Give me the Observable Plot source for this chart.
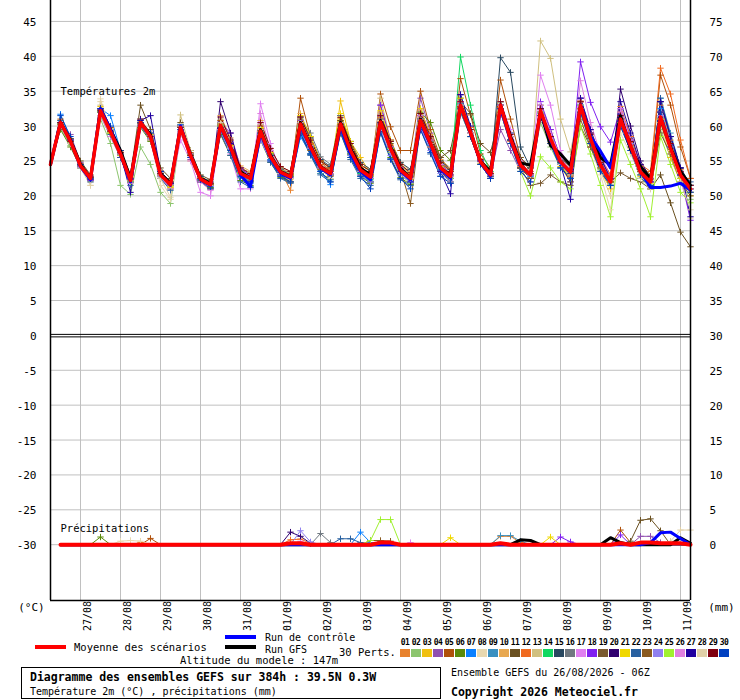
<!DOCTYPE html>
<html><head><meta charset="utf-8">
<script src="https://cdn.jsdelivr.net/npm/d3@7"></script>
<script src="https://cdn.jsdelivr.net/npm/@observablehq/plot@0.6"></script>
<style>
body{margin:0;background:#fff;}
#chart{width:740px;height:700px;}
svg text{font-family:"DejaVu Sans Mono",monospace;}
</style></head><body><div id="chart"></div>
<script>
// ---- labels ----
const dayLabels = ["27/08","28/08","29/08","30/08","31/08","01/09","02/09","03/09","04/09","05/09","06/09","07/09","08/09","09/09","10/09","11/09"];
const tempTicks = [-30,-25,-20,-15,-10,-5,0,5,10,15,20,25,30,35,40,45];
const gridTemps = [-30,-25,-20,-15,-10,-5,5,10,15,20,25,30,35,40,45];
const pertNames = ["01","02","03","04","05","06","07","08","09","10","11","12","13","14","15","16","17","18","19","20","21","22","23","24","25","26","27","28","29","30"];
const pertColors = ["#e8822e","#8cc56e","#f0c010","#9050b0","#b0500a","#5a8a0a","#0a80ff","#e8d8b0","#3a90c0","#e8a850","#6a5020","#f06a20","#d0c080","#10d860","#284860","#707880","#e080f0","#8020f0","#7a5a30","#300070","#f0d800","#2860a0","#8a5a20","#9080f0","#a0f030","#e080e0","#2000a0","#e0d0a8","#800010","#0040c0"];

// ---- 2m temperature (°C), 6-hourly from 26/08 06Z ----
const tMean = [24.5,
30.5,27.8,24.3,22.5, 32.2,29.2,26.0,22.2, 30.5,28.5,23.0,21.6, 29.8,25.8,22.4,21.6,
30.1,27.0,23.2,22.5, 29.3,25.6,23.4,22.7, 30.3,27.0,24.1,23.2, 30.3,26.5,23.7,22.7,
30.6,26.8,23.7,22.5, 30.8,27.5,24.0,22.8, 33.0,29.1,24.9,23.0, 33.0,28.2,24.4,23.0,
32.2,28.2,24.9,23.4, 33.0,28.2,24.4,22.0, 31.0,27.2,23.4,22.0, 31.3,26.8,23.0,21.0];
const tCtrl = [24.5,
30.5,27.8,24.2,22.3, 32.5,29.5,26.0,22.0, 30.5,28.5,23.0,21.5, 30.0,25.8,22.3,21.5,
30.0,26.8,23.0,21.3, 29.0,25.5,23.2,22.5, 30.0,26.8,24.0,23.0, 30.0,26.0,23.5,22.3,
30.5,26.8,23.5,22.3, 30.5,27.3,23.8,22.5, 33.0,29.0,24.8,22.8, 32.5,28.0,24.3,23.0,
32.0,28.0,24.8,23.3, 33.0,28.5,26.4,24.0, 31.0,27.0,23.5,21.2, 21.2,21.4,21.8,20.8];
const tGfs = [24.5,
30.5,28.0,24.5,22.5, 32.5,29.5,26.5,22.5, 30.5,28.8,23.2,21.8, 29.8,26.0,22.5,21.8,
30.0,27.0,23.5,22.5, 29.5,25.8,23.5,22.8, 30.5,27.2,24.2,23.2, 30.5,26.8,24.0,23.0,
30.8,27.0,24.0,22.5, 31.0,27.5,24.0,23.0, 33.0,29.0,25.0,23.5, 33.0,28.5,24.7,24.4,
32.0,27.2,26.0,24.4, 33.0,28.5,25.5,24.4, 31.5,26.7,24.2,22.5, 31.0,27.0,23.5,21.5];

const t01 = [24.5, 30.8,28,24.5,22.8, 32.5,29.5,26.3,22.6, 30.2,28.3,23.2,21.8, 29.5,25.5,22.6,21.8, 29.8,26.5,23.0,22.2, 29.0,25.2,23.6,20.8, 30.0,26.8,24.3,23.5, 30.8,27.0,24.2,23.0, 31.2,27.3,24.0,22.8, 31.0,27.8,24.3,23.1, 33.5,29.8,25.3,23.4, 32.5,27.8,24.2,22.6, 31.6,27.6,24.5,22.8, 33.6,29.0,25.0,22.5, 32.8,28.5,24.2,22.5, 33.0,28.0,23.8,20.5];
const t02 = [24.5, 29.8,27.2,24.2,22.8, 31.0,27.5,21.5,20.2, 27.0,24.5,20.5,18.9, 29.0,25.5,22.0,21.2, 29.5,26.5,22.8,22.0, 28.8,25.5,23.5,22.5, 29.8,26.5,24.0,23.0, 29.5,26.0,23.5,22.0, 30.0,26.2,23.0,21.8, 30.2,27.0,23.5,22.0, 32.0,28.5,24.5,22.5, 32.2,27.5,24.0,22.8, 30.5,27.0,24.0,22.5, 32.0,27.5,23.8,21.5, 30.0,26.5,22.5,21.0, 29.5,25.5,22.0,19.5];
const t03 = [24.5, 30.2,27.5,24.0,22.3, 32.8,29.6,26.5,22.5, 30.8,28.8,23.2,21.2, 30.0,26.0,22.5,21.7, 30.5,27.2,23.5,22.6, 29.6,25.8,23.2,22.4, 30.5,27.3,24.0,23.0, 33.6,27.8,25.5,23.2, 31.0,27.0,23.8,22.4, 31.5,28.0,24.2,23.0, 33.5,29.0,24.6,22.5, 33.5,28.5,24.5,22.5, 31.5,27.5,24.2,22.0, 32.5,27.5,23.5,21.0, 30.5,26.5,22.8,21.5, 30.5,25.5,22.0,20.0];
const t04 = [24.5, 30.3,28.8,24.8,22.8, 32.0,29.0,25.8,22.0, 30.0,28.0,22.8,21.5, 29.2,25.2,22.0,21.5, 30.5,27.5,23.8,23.0, 29.5,26.0,23.8,23.0, 30.8,27.5,24.5,23.5, 30.0,26.0,23.5,22.5, 33.0,28.0,24.5,23.0, 34.0,29.0,24.8,23.0, 32.5,28.5,24.5,22.8, 29.5,26.5,23.5,22.0, 32.0,28.5,25.0,23.5, 33.5,29.5,25.5,23.0, 31.5,28.0,24.0,22.5, 31.0,26.5,22.5,20.5];
const t05 = [24.5, 31.0,28.2,24.6,22.6, 32.5,29.8,26.5,22.5, 31.0,28.5,23.5,22.0, 30.2,26.2,22.8,21.8, 30.8,27.5,23.5,22.5, 30.0,26.0,23.5,22.5, 34.0,28.5,25.0,23.5, 31.5,27.0,24.0,23.0, 34.6,29.9,26.5,26.5, 35.0,29.5,25.5,23.5, 36.8,31.6,26.0,24.0, 36.6,31.0,25.5,23.5, 32.5,28.5,25.5,23.5, 33.5,29.0,25.0,22.8, 31.5,28.0,24.5,23.0, 37.3,33.0,27.0,22.5];
const t06 = [24.5, 29.5,27.0,24.0,22.2, 31.5,28.5,25.5,22.0, 29.8,27.8,22.5,21.0, 29.5,25.5,22.2,21.2, 28.8,25.8,22.2,21.5, 28.0,24.8,22.6,22.0, 29.0,26.0,23.2,22.4, 29.0,25.5,22.8,21.8, 29.2,25.5,22.6,21.6, 32.0,30.5,26.5,25.1, 34.0,29.5,25.0,23.2, 33.0,28.5,24.8,23.0, 31.5,27.5,24.5,23.2, 32.5,28.0,24.5,22.0, 30.5,27.5,23.8,22.5, 30.5,26.5,23.0,21.5];
const t07 = [24.5, 31.7,28.2,24.3,22.4, 32.5,31.5,26.5,22.0, 30.8,29.0,23.2,21.5, 30.2,26.5,22.8,21.8, 30.0,26.8,23.0,22.0, 29.0,25.2,23.0,22.0, 28.5,26.0,23.5,21.6, 30.0,26.0,23.2,22.0, 30.5,26.5,23.5,22.0, 31.0,27.5,24.0,22.8, 33.0,28.5,24.5,22.5, 33.5,29.0,24.6,22.8, 32.5,28.5,25.0,23.0, 33.0,28.0,24.0,21.5, 30.5,26.5,23.0,21.5, 32.5,27.5,23.0,20.5];
const t08 = [24.5, 30.0,27.5,24.0,21.5, 33.9,29.0,25.5,22.0, 30.0,28.0,21.5,19.5, 29.5,25.5,22.0,21.0, 30.0,26.8,23.0,22.2, 29.2,25.5,23.2,22.0, 30.5,26.5,23.8,22.5, 30.0,26.0,23.5,22.8, 30.8,26.5,23.5,22.5, 30.5,27.0,24.0,22.5, 32.5,28.5,24.5,22.8, 32.5,27.5,24.0,22.5, 32.0,28.0,24.5,23.0, 32.0,27.0,23.0,18.0, 29.0,26.0,23.0,21.5, 30.0,26.0,22.5,16.8];
const t09 = [24.5, 30.5,27.8,24.5,22.6, 32.0,29.0,26.0,22.3, 30.5,28.5,23.0,21.8, 29.8,25.8,22.5,21.7, 29.3,26.2,22.6,21.8, 28.8,25.0,22.8,22.0, 29.3,26.0,23.2,22.3, 29.5,25.8,22.8,22.0, 30.5,26.8,23.8,22.5, 30.5,27.2,23.8,22.5, 33.2,29.0,25.0,23.0, 32.5,28.0,24.0,22.5, 31.8,27.8,24.6,23.2, 33.0,28.0,24.5,22.5, 30.5,27.0,23.5,22.0, 34.0,29.0,24.0,21.5];
const t10 = [24.5, 30.8,28.0,24.5,22.2, 32.5,29.5,26.2,22.8, 31.0,29.0,23.5,22.0, 30.0,25.0,22.0,21.0, 31.5,28.3,24.3,23.5, 30.8,26.8,24.2,23.5, 31.8,28.3,25.0,24.0, 31.5,27.8,24.8,23.8, 32.0,28.0,24.8,23.5, 32.3,28.8,25.2,24.0, 33.0,29.0,25.0,23.0, 32.0,28.0,24.5,23.0, 32.5,28.5,25.0,23.5, 33.5,28.5,24.5,22.0, 31.5,27.5,23.5,22.0, 31.5,27.0,23.5,21.0];
const t11 = [24.5, 30.5,28.2,25.0,23.0, 32.5,29.5,26.5,23.0, 33.0,29.5,24.0,22.5, 30.5,26.5,23.0,22.3, 30.0,27.0,24.0,23.2, 29.5,26.0,24.0,23.2, 30.5,27.5,24.5,23.5, 30.8,27.0,24.5,23.5, 31.0,27.5,24.5,23.0, 31.0,28.5,25.5,26.5, 33.5,31.8,27.5,26.2, 32.0,29.0,25.5,24.0, 33.0,29.5,25.5,24.0, 32.5,28.5,25.0,22.5, 31.0,28.0,23.5,21.0, 23.0,19.0,14.8,12.7];
const t12 = [24.5, 30.5,27.8,24.3,22.5, 32.0,29.0,25.8,22.0, 30.5,28.5,23.0,21.5, 29.8,26.0,22.5,21.6, 30.0,27.0,23.3,22.5, 29.3,26.0,23.8,23.0, 30.5,27.5,24.5,23.5, 30.0,26.5,24.0,23.0, 30.5,27.0,24.0,22.5, 31.0,27.5,24.0,22.8, 33.0,29.0,25.0,23.0, 33.0,28.0,24.0,22.5, 32.5,28.5,25.0,23.0, 33.5,29.5,25.5,23.0, 32.0,28.5,24.5,23.5, 38.3,34.6,28.0,22.5];
const t13 = [24.5, 30.2,27.5,24.2,22.0, 33.0,29.5,26.0,22.5, 30.5,28.0,22.5,21.0, 31.6,26.5,22.5,21.8, 31.0,28.0,24.0,23.3, 30.2,26.5,24.0,23.3, 30.5,27.0,24.0,23.0, 30.5,26.5,23.5,22.5, 34.0,28.0,24.5,23.0, 31.0,27.5,24.0,22.5, 32.5,28.5,24.5,22.8, 32.5,28.0,24.5,23.0, 42.2,39.7,31.0,26.3, 33.5,28.5,24.5,22.5, 31.5,27.5,23.5,22.0, 30.5,26.5,23.0,21.5];
const t14 = [24.5, 30.0,27.5,24.3,22.5, 32.5,29.5,26.0,22.2, 30.5,28.5,23.0,21.6, 29.5,25.5,22.5,21.5, 30.0,27.0,23.0,22.3, 29.5,25.8,23.5,22.8, 30.0,27.0,24.0,23.0, 29.5,26.0,23.2,22.3, 30.5,26.8,23.8,22.5, 31.0,27.5,24.0,23.0, 39.9,33.0,26.5,23.5, 33.5,28.5,24.5,23.0, 32.0,28.0,24.8,23.5, 33.0,28.0,24.5,22.0, 30.5,26.5,22.5,21.5, 31.0,26.5,22.5,20.5];
const t15 = [24.5, 30.5,28.0,24.5,22.5, 32.0,29.5,26.5,22.5, 30.5,28.5,23.5,22.0, 30.0,26.0,22.8,22.0, 30.5,27.0,23.5,22.8, 29.5,26.0,23.8,23.0, 31.3,28.3,25.2,24.2, 31.5,27.8,24.8,23.8, 31.5,27.8,24.8,23.8, 31.8,28.5,25.0,23.8, 33.0,29.0,25.0,23.0, 39.8,37.7,27.0,24.0, 32.0,28.0,24.8,23.2, 32.5,28.0,24.5,22.5, 31.0,27.5,24.0,22.5, 33.5,28.5,24.0,21.5];
const t16 = [24.5, 30.5,27.8,24.5,22.6, 32.2,29.2,26.2,22.4, 30.5,28.5,23.3,21.8, 30.0,26.0,22.6,21.8, 30.2,27.2,23.5,22.7, 29.5,26.0,23.8,23.0, 31.0,29.0,25.6,24.5, 31.5,27.5,24.5,23.5, 31.5,27.8,24.5,23.3, 31.0,27.8,24.3,23.0, 33.0,29.0,25.0,23.2, 33.0,28.0,24.5,23.0, 32.0,28.5,25.0,23.5, 33.0,28.5,24.5,22.0, 31.0,27.5,23.5,22.0, 32.0,27.5,23.5,21.5];
const t17 = [24.5, 30.0,27.5,24.0,22.2, 31.5,28.5,25.5,21.8, 30.0,28.0,22.5,21.0, 28.0,25.0,20.5,20.0, 29.0,26.0,21.0,21.0, 33.2,27.5,23.5,22.5, 30.0,27.0,24.0,23.0, 30.0,26.5,23.5,22.5, 30.5,27.0,24.0,22.5, 30.5,27.0,24.0,22.5, 32.5,28.5,24.5,22.5, 33.5,29.5,25.0,23.0, 37.3,33.0,26.5,24.0, 34.0,29.0,25.0,22.0, 32.0,28.0,24.0,22.0, 31.5,27.0,23.0,20.5];
const t18 = [24.5, 30.5,28.0,24.5,22.5, 32.5,29.5,26.0,22.3, 30.5,28.5,23.0,21.5, 30.0,26.0,22.5,21.5, 30.5,29.0,24.0,22.8, 29.5,25.5,23.5,22.5, 30.5,27.0,24.0,23.0, 30.5,26.5,23.5,22.5, 33.0,28.0,24.0,22.5, 32.5,28.5,24.5,23.0, 33.5,29.5,25.0,23.0, 33.0,28.5,24.5,23.0, 33.5,29.5,25.5,23.5, 39.2,33.4,29.9,27.7, 32.5,28.0,24.0,22.0, 32.0,27.5,23.0,16.5];
const t19 = [24.5, 30.2,27.8,24.5,22.8, 32.0,29.2,26.0,22.5, 30.3,28.2,23.0,21.8, 29.8,25.8,22.4,21.8, 30.0,27.0,23.5,22.8, 29.3,25.5,23.5,23.0, 30.0,27.0,24.0,23.2, 30.2,26.5,23.8,22.8, 30.5,27.0,24.0,22.8, 31.0,27.5,24.0,23.0, 32.5,28.5,24.5,22.8, 32.5,28.0,24.0,21.5, 21.8,23.0,22.0,21.5, 30.0,27.0,23.5,22.0, 23.3,22.5,22.0,21.0, 29.0,26.0,22.0,20.0];
const t20 = [24.5, 30.5,27.8,24.2,22.3, 32.5,29.5,25.5,22.0, 31.0,28.5,23.5,21.5, 29.5,25.5,22.0,21.0, 33.5,29.0,23.5,22.0, 29.5,25.5,23.0,22.5, 30.5,27.0,24.0,23.0, 30.5,26.5,23.5,22.5, 31.0,27.0,24.0,22.5, 31.5,28.0,24.0,22.5, 34.5,29.5,25.0,23.0, 33.0,28.0,24.0,22.5, 32.5,28.5,24.5,22.0, 34.0,29.0,24.5,22.0, 35.3,30.0,25.0,22.5, 33.5,28.5,24.0,21.0];
const t21 = [24.5, 30.5,27.8,24.3,22.5, 32.5,29.0,26.0,22.2, 30.2,28.0,22.8,21.3, 30.0,26.0,22.6,21.6, 30.3,27.2,23.3,22.5, 29.8,26.2,23.6,23.0, 31.5,28.5,25.0,24.0, 31.8,27.8,24.5,23.5, 32.2,28.0,24.5,23.2, 32.5,28.5,24.8,23.5, 34.0,29.5,25.0,23.2, 33.5,28.5,24.5,23.2, 31.5,27.5,24.5,22.5, 32.5,27.5,24.0,22.0, 30.5,27.0,23.0,21.8, 31.0,26.5,22.5,20.5];
const t22 = [24.5, 30.8,27.5,24.0,22.0, 32.0,28.8,25.5,21.5, 30.0,28.0,22.5,20.8, 29.5,25.5,22.0,21.0, 29.0,25.8,22.0,21.2, 28.5,24.8,22.5,21.8, 28.8,25.8,23.0,22.0, 29.0,25.2,22.5,21.5, 29.0,25.2,22.3,21.5, 29.5,26.0,22.8,21.8, 32.0,28.5,24.5,22.8, 32.5,28.0,24.0,22.5, 31.5,27.5,24.0,22.5, 32.0,27.5,23.5,21.5, 30.0,26.5,22.5,21.5, 34.0,28.5,23.5,22.0];
const t23 = [24.5, 30.3,27.8,24.5,22.5, 32.2,29.5,26.5,22.5, 30.5,28.5,23.0,21.5, 29.5,25.8,22.5,21.5, 30.0,27.0,23.0,22.2, 29.0,25.5,23.0,22.0, 30.0,26.5,23.8,22.8, 30.0,26.0,23.0,22.0, 30.5,26.5,23.7,18.9, 30.0,27.0,23.5,22.0, 32.5,28.5,24.5,22.5, 32.0,27.5,24.0,22.5, 31.5,27.5,24.5,23.0, 31.0,27.0,24.0,22.0, 31.0,27.5,23.5,22.5, 31.0,27.0,23.0,21.0];
const t24 = [24.5, 30.5,28.0,24.5,22.5, 32.5,29.5,26.0,22.0, 30.2,28.2,22.8,21.5, 29.5,25.5,22.3,21.5, 30.0,26.8,23.0,22.3, 28.0,25.0,23.0,22.5, 30.0,26.8,24.0,23.0, 29.3,25.8,23.0,22.0, 29.5,25.8,23.0,22.0, 29.8,26.5,23.2,22.0, 33.0,29.0,25.0,23.0, 33.5,29.0,24.8,23.0, 32.5,28.5,25.0,23.5, 34.0,29.5,25.0,22.5, 31.5,27.5,24.0,22.5, 31.5,27.0,23.5,21.5];
const t25 = [24.5, 30.3,27.8,24.3,22.5, 32.0,29.0,25.8,22.0, 30.5,28.5,23.0,21.5, 29.8,25.8,22.5,21.6, 30.0,27.0,23.2,22.5, 29.5,26.0,23.5,22.8, 30.0,27.0,24.0,23.0, 30.5,26.5,23.5,22.8, 30.5,26.8,23.5,22.5, 30.5,27.5,24.0,22.5, 32.5,28.5,24.5,22.5, 32.0,27.5,23.5,20.0, 25.6,24.0,22.0,21.0, 30.0,26.0,21.5,17.0, 28.0,24.5,21.0,17.0, 28.5,24.5,20.5,19.0];
const t26 = [24.5, 30.0,27.5,24.2,22.3, 32.5,29.5,26.0,22.3, 30.5,28.5,23.0,21.6, 29.0,25.5,22.0,20.8, 29.5,27.0,23.0,22.5, 31.8,26.5,23.5,22.5, 30.5,27.2,24.2,23.2, 30.5,26.5,23.5,22.5, 31.5,27.0,24.0,22.5, 31.5,28.0,24.5,23.0, 33.5,29.0,25.0,23.0, 33.0,28.5,24.5,23.0, 33.0,29.0,25.5,23.5, 36.5,30.5,26.0,22.5, 32.5,28.0,24.0,22.0, 32.0,27.5,23.5,21.0];
const t27 = [24.5, 30.5,28.0,24.3,22.3, 32.5,29.5,26.0,20.5, 30.8,31.5,23.5,21.8, 30.0,26.0,22.5,21.5, 30.5,27.5,23.5,22.5, 29.5,25.8,23.5,22.7, 30.5,27.0,24.0,23.0, 30.5,26.5,23.5,22.5, 30.5,27.0,23.5,22.0, 31.0,27.5,23.5,20.3, 34.5,30.0,25.0,22.5, 33.0,28.5,24.5,23.0, 32.5,28.5,24.5,19.5, 34.0,29.5,25.5,22.5, 33.5,29.0,24.5,22.0, 33.5,28.5,24.0,17.0];
const t28 = [24.5, 30.0,27.5,24.0,21.5, 33.5,29.5,26.0,22.5, 30.5,28.0,22.5,19.8, 30.0,26.0,22.5,21.5, 30.5,27.0,23.5,22.5, 29.5,25.5,23.5,22.5, 30.5,27.0,24.0,23.0, 30.5,26.5,23.5,22.5, 31.0,27.0,23.8,22.5, 31.0,27.5,24.0,22.8, 33.0,29.0,24.8,23.0, 33.0,28.5,24.5,23.0, 32.0,28.0,24.5,23.0, 33.0,28.0,23.5,20.0, 30.5,26.5,22.5,21.0, 31.0,26.5,22.0,18.0];
const t29 = [24.5, 30.5,27.8,24.5,22.6, 32.3,29.3,26.2,22.4, 30.5,28.5,23.2,21.8, 29.8,25.8,22.5,21.7, 31.3,28.0,24.0,23.2, 30.5,26.8,24.2,23.5, 31.3,28.0,25.0,24.0, 31.2,27.5,24.5,23.5, 31.5,27.8,24.5,23.3, 31.8,28.5,24.8,23.5, 33.5,29.5,25.2,23.2, 33.5,28.8,24.8,23.2, 32.5,28.5,25.0,23.5, 33.5,28.8,24.8,22.3, 31.5,27.8,23.8,22.3, 32.0,27.5,23.5,21.5];
const t30 = [24.5, 31.5,28.5,24.5,22.5, 32.5,30.0,26.5,22.5, 30.5,29.0,23.5,21.8, 29.5,25.5,22.3,21.3, 29.8,26.5,22.8,21.3, 29.0,25.0,22.8,22.0, 29.0,26.0,23.5,22.0, 29.3,25.5,22.8,21.0, 29.2,25.3,22.5,21.0, 29.5,26.2,22.8,21.8, 32.5,28.5,24.5,22.5, 32.5,27.5,23.5,22.0, 31.5,27.5,24.0,22.5, 32.0,27.5,23.5,21.5, 30.0,26.5,23.0,21.5, 32.0,27.0,23.0,20.5];

// ---- precipitation (mm per 6 h): [step index, mm], other steps 0 ----
const rMean = [[24,0.2],[25,0.2],[33,0.3],[34,0.3],[45,0.2],[57,0.2],[59,0.3],[60,0.3],[61,0.2],[62,0.2],[63,0.2]];
const rCtrl = [[60,0.3],[61,1.7],[62,1.8],[63,0.9]];
const rGfs = [[47,0.7],[48,0.6],[56,1.0],[57,0.3],[63,1.0],[64,0.2]];
const r01 = [[9,0.3],[45,1.2],[46,1.2],[47,0.3]];
const r04 = [[59,1.2],[60,1.2],[61,0.3]];
const r05 = [[10,0.9],[33,0.5],[57,2.1],[58,0.3]];
const r06 = [[5,1.1]];
const r07 = [[31,1.8],[32,0.3]];
const r08 = [[7,0.5],[8,0.6],[9,0.5]];
const r09 = [[45,1.3],[46,1.3],[47,0.5]];
const r11 = [[58,0.5],[59,3.5],[60,3.7],[61,2.0]];
const r12 = [[24,0.7],[25,0.8],[26,0.2]];
const r16 = [[27,1.6],[28,0.3]];
const r17 = [[25,0.5],[36,0.3]];
const r18 = [[51,1.1],[52,0.4],[57,1.4]];
const r20 = [[24,1.8],[25,1.2],[26,0.2]];
const r21 = [[40,1.0],[50,1.1]];
const r22 = [[29,0.85],[30,0.85],[31,0.3]];
const r23 = [[32,0.6],[33,0.6],[34,0.5]];
const r24 = [[25,2.0],[26,0.4]];
const r25 = [[32,0.6],[33,3.6],[34,3.6]];
const r28 = [[62,0.5],[63,2.1],[64,2.1]];
const none = [];

const tMembers = [t01,t02,t03,t04,t05,t06,t07,t08,t09,t10,t11,t12,t13,t14,t15,t16,t17,t18,t19,t20,t21,t22,t23,t24,t25,t26,t27,t28,t29,t30];
const rMembers = [r01,none,none,r04,r05,r06,r07,r08,r09,none,r11,r12,none,none,none,r16,r17,r18,none,r20,r21,r22,r23,r24,r25,none,none,r28,none,none];

const STEP_H = 6, PRECIP_ZERO = -30; // precip axis: 0 mm sits on the -30 °C line
function tRows(arr, id){ return arr.map((v,i)=>({id, h:i*STEP_H, v})); }
function pRows(ev, id){
  const a = new Array(65).fill(0); ev.forEach(([i,m])=>{a[i]=m;});
  return a.map((m,i)=>({id, h:i*STEP_H, m, v:PRECIP_ZERO+m})).slice(1);
}
const memT = tMembers.flatMap((a,k)=>tRows(a,pertNames[k]));
const memP = rMembers.flatMap((e,k)=>pRows(e,pertNames[k]));
const dayRows = dayLabels.map((s,k)=>({h:18+24*k, s}));
const mono = "DejaVu Sans Mono";

const chart = Plot.plot({
  width:740, height:700, marginTop:0, marginBottom:100, marginLeft:50, marginRight:50,
  x:{domain:[0,384], axis:null},
  y:{domain:[-38,48], axis:null},
  color:{domain:pertNames, range:pertColors},
  style:{fontFamily:mono, background:"#fff", color:"#000"},
  marks:[
    Plot.ruleY(gridTemps, {stroke:"#c0c0c0", strokeWidth:1}),
    Plot.ruleX(dayRows, {x:"h", stroke:"#c0c0c0", strokeWidth:1}),
    Plot.line(memT, {x:"h", y:"v", z:"id", stroke:"id", strokeWidth:1}),
    Plot.dot(memT.filter(d=>d.h>0), {x:"h", y:"v", stroke:"id", symbol:"plus", r:2.2, strokeWidth:1}),
    Plot.line(memP, {x:"h", y:"v", z:"id", stroke:"id", strokeWidth:1}),
    Plot.dot(memP.filter(d=>d.m>0), {x:"h", y:"v", stroke:"id", symbol:"plus", r:2.2, strokeWidth:1}),
    Plot.line(tRows(tGfs,"gfs"), {x:"h", y:"v", stroke:"#000", strokeWidth:3}),
    Plot.line(pRows(rGfs,"gfs"), {x:"h", y:"v", stroke:"#000", strokeWidth:3}),
    Plot.line(tRows(tCtrl,"ctrl"), {x:"h", y:"v", stroke:"#0000ff", strokeWidth:3}),
    Plot.line(pRows(rCtrl,"ctrl"), {x:"h", y:"v", stroke:"#0000ff", strokeWidth:3}),
    Plot.line(tRows(tMean,"mean"), {x:"h", y:"v", stroke:"#ff0000", strokeWidth:3.5}),
    Plot.line(pRows(rMean,"mean"), {x:"h", y:"v", stroke:"#ff0000", strokeWidth:4}),
    // frame
    Plot.ruleX([0,384], {stroke:"#000", strokeWidth:1.5}),
    Plot.ruleY([-38], {stroke:"#000", strokeWidth:1.5}),
    Plot.ruleY([0], {stroke:"#000", strokeWidth:1, dy:-1}),
    Plot.ruleY([0], {stroke:"#000", strokeWidth:1, dy:1.5}),
    // axis labels
    Plot.text(tempTicks, {x:0, y:d=>d, text:d=>String(d), textAnchor:"end", dx:-14, dy:1, fontSize:11, fontFamily:mono}),
    Plot.text(tempTicks, {x:384, y:d=>d, text:d=>String(d+30), textAnchor:"start", dx:19, dy:1, fontSize:11, fontFamily:mono}),
    Plot.text(dayRows, {x:"h", y:-38, text:"s", rotate:-90, textAnchor:"end", dx:7, dy:0.5, fontSize:10, fontFamily:mono}),
    Plot.text(["(°C)"], {x:0, y:-38, text:d=>d, textAnchor:"middle", dx:-19, dy:7, fontSize:11, fontFamily:mono}),
    Plot.text(["(mm)"], {x:384, y:-38, text:d=>d, textAnchor:"middle", dx:31, dy:7, fontSize:11, fontFamily:mono}),
    Plot.text(["Températures 2m"], {x:6, y:35, text:d=>d, textAnchor:"start", fontSize:10.5, fontFamily:mono}),
    Plot.text(["Précipitations"], {x:6, y:-27.7, text:d=>d, textAnchor:"start", fontSize:10.5, fontFamily:mono})
  ]
});
document.getElementById("chart").appendChild(chart);

// ---- legend / footer ----
const svg = d3.select(chart);
const g = svg.append("g").attr("font-family", mono).attr("fill","#000").attr("text-anchor","start");
function line(x1,x2,y,c,w){ g.append("line").attr("x1",x1).attr("x2",x2).attr("y1",y).attr("y2",y).attr("stroke",c).attr("stroke-width",w); }
function txt(x,y,s,size,weight){ g.append("text").attr("x",x).attr("y",y).attr("dy","0.35em").attr("text-anchor","start").attr("font-size",size).attr("font-weight",weight||"normal").text(s); }
line(35,66,647,"#ff0000",4); txt(74,647,"Moyenne des scénarios",10.5);
line(225,256,637,"#0000ff",4); txt(265,637.5,"Run de contrôle",10);
line(225,256,647,"#000",4); txt(265,649,"Run GFS",10);
txt(339,652,"30 Perts.",10.5);
txt(180,660,"Altitude du modele : 147m",10.5);
pertNames.forEach((n,k)=>{
  g.append("text").attr("x",400+11*k+5).attr("y",642).attr("dy","0.35em").attr("text-anchor","middle").attr("font-size",8).attr("font-weight","bold").attr("letter-spacing","-0.5").text(n);
  g.append("rect").attr("x",400+11*k).attr("y",649).attr("width",10).attr("height",8).attr("fill",pertColors[k]);
});
g.append("rect").attr("x",21.5).attr("y",667.5).attr("width",419).attr("height",31).attr("fill","none").attr("stroke","#000");
txt(30,677,"Diagramme des ensembles GEFS sur 384h : 39.5N 0.3W",11.5,"bold");
txt(30,691,"Température 2m (°C) , précipitations (mm)",10);
txt(451,672,"Ensemble GEFS du 26/08/2026 - 06Z",10);
txt(451,692,"Copyright 2026 Meteociel.fr",11.5,"bold");
</script></body></html>
